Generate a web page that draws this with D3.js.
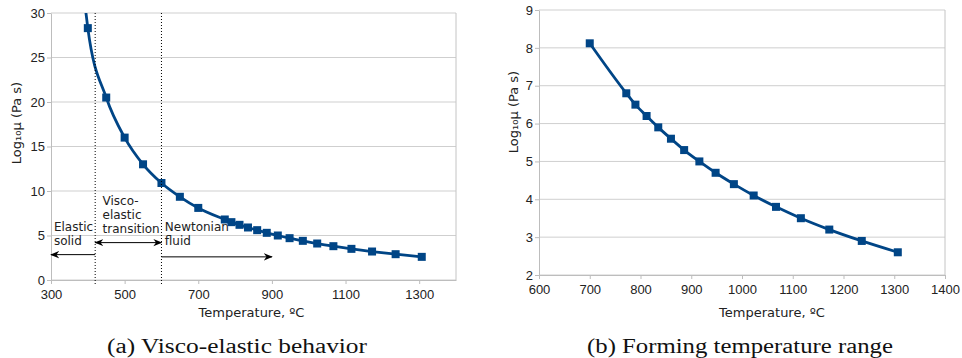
<!DOCTYPE html>
<html>
<head>
<meta charset="utf-8">
<script src="https://cdn.jsdelivr.net/npm/d3@7"></script>
<style>
  body { margin: 0; background: #fff; }
  svg { display: block; }
</style>
</head>
<body>
<svg id="drawing_region"></svg>
<script>
// temperature (ºC) and log10 viscosity (Pa s)
const temps_a = [392, 400, 450, 500, 550, 600, 650, 700, 772, 790, 812, 835, 860, 886, 916, 948, 984, 1023, 1067, 1116, 1172, 1236, 1307];
const visc_a  = [31.0, 28.3, 20.5, 16.0, 13.0, 10.9, 9.35, 8.1, 6.8, 6.5, 6.2, 5.9, 5.6, 5.3, 5.0, 4.7, 4.4, 4.1, 3.8, 3.5, 3.2, 2.9, 2.6];

const temps_b = [700, 772, 790, 812, 835, 860, 886, 916, 948, 984, 1023, 1067, 1116, 1172, 1236, 1307];
const visc_b  = [8.12, 6.8, 6.5, 6.2, 5.9, 5.6, 5.3, 5.0, 4.7, 4.4, 4.1, 3.8, 3.5, 3.2, 2.9, 2.6];

const xticks_a = [300, 500, 700, 900, 1100, 1300];
const yticks_a = [0, 5, 10, 15, 20, 25, 30];
const xticks_b = [600, 700, 800, 900, 1000, 1100, 1200, 1300, 1400];
const yticks_b = [2, 3, 4, 5, 6, 7, 8, 9];

// region limits (ºC) and annotation labels for chart (a)
const region_bounds = [420, 600];
const region_labels = [
    { lines: ["Elastic", "solid"], t: 308, v: 5.45 },
    { lines: ["Visco-", "elastic", "transition"], t: 440, v: 8.4 },
    { lines: ["Newtonian", "fluid"], t: 609, v: 5.45 }
];
const region_arrows = [
    { from: 420, to: 300, v: 2.85, both: false },
    { from: 420, to: 600, v: 4.2, both: true },
    { from: 600, to: 900, v: 2.6, both: false }
];

const captions = ["(a) Visco-elastic behavior", "(b) Forming temperature range"];

const color = "#004586";

const svg = d3.select('#drawing_region')
    .attr('width', 962)
    .attr('height', 358);

svg.append('rect').attr('width', 962).attr('height', 358).attr('fill', '#fff');

const defs = svg.append('defs');
defs.append('marker')
    .attr('id', 'arrow')
    .attr('viewBox', '0 0 10 10')
    .attr('refX', 9).attr('refY', 5)
    .attr('markerWidth', 9).attr('markerHeight', 9)
    .attr('markerUnits', 'userSpaceOnUse')
    .attr('orient', 'auto-start-reverse')
    .append('path')
    .attr('d', 'M0,1 L10,5 L0,9 L3,5 Z')
    .attr('fill', '#000');

class LineChart {
    constructor(config, temps, visc) {
        this.config = config;
        this.temps = temps;
        this.visc = visc;
        this.init();
    }

    init() {
        let self = this;
        let c = self.config;

        self.x = d3.scaleLinear().domain(c.xdomain).range([c.left, c.right]);
        self.y = d3.scaleLinear().domain(c.ydomain).range([c.bottom, c.top]);

        self.g = svg.append('g');

        // horizontal grid
        self.g.append('g')
            .selectAll('line')
            .data(c.yticks)
            .join('line')
            .attr('x1', c.left).attr('x2', c.right)
            .attr('y1', d => self.y(d)).attr('y2', d => self.y(d))
            .attr('stroke', '#cfcfcf')
            .attr('stroke-width', 1);

        // right border
        self.g.append('line')
            .attr('x1', c.right).attr('x2', c.right)
            .attr('y1', c.top).attr('y2', c.bottom)
            .attr('stroke', '#c4c4c4');

        const fmt = d3.format('d');
        const xAxis = d3.axisBottom(self.x).tickValues(c.xticks).tickFormat(fmt).tickSize(4).tickSizeOuter(0);
        const yAxis = d3.axisLeft(self.y).tickValues(c.yticks).tickFormat(fmt).tickSize(4).tickSizeOuter(0);

        self.g.append('g')
            .attr('transform', `translate(0,${c.bottom})`)
            .call(xAxis)
            .call(g => g.select('.domain').attr('stroke', '#bdbdbd'))
            .call(g => g.selectAll('.tick line').attr('stroke', '#bdbdbd'))
            .call(g => g.selectAll('.tick text')
                .attr('font-family', 'Liberation Sans, Arial, sans-serif')
                .attr('font-size', '13px').attr('fill', '#222').attr('dy', '0.95em'));

        self.g.append('g')
            .attr('transform', `translate(${c.left},0)`)
            .call(yAxis)
            .call(g => g.select('.domain').attr('stroke', '#bdbdbd'))
            .call(g => g.selectAll('.tick line').attr('stroke', '#bdbdbd'))
            .call(g => g.selectAll('.tick text')
                .attr('font-family', 'Liberation Sans, Arial, sans-serif')
                .attr('font-size', '13px').attr('fill', '#222').attr('x', -6));

        self.g.append('text')
            .attr('x', (c.left + c.right) / 2 + c.xtitleShift)
            .attr('y', 317)
            .attr('text-anchor', 'middle')
            .attr('font-family', 'DejaVu Sans, sans-serif')
            .attr('font-size', '13px')
            .attr('fill', '#222')
            .text('Temperature, ºC');

        self.g.append('text')
            .attr('transform', `translate(${c.ytitleX},${c.ytitleY}) rotate(-90)`)
            .attr('text-anchor', 'middle')
            .attr('font-family', 'DejaVu Sans, sans-serif')
            .attr('font-size', '13px')
            .attr('fill', '#222')
            .text('Log₁₀μ (Pa s)');

        self.g.append('text')
            .attr('x', c.captionX)
            .attr('y', 353)
            .attr('text-anchor', 'middle')
            .attr('font-family', "'Liberation Serif', 'DejaVu Serif', serif")
            .attr('font-size', '20px')
            .attr('fill', '#111')
            .attr('textLength', c.captionW)
            .attr('lengthAdjust', 'spacingAndGlyphs')
            .text(c.caption);

        defs.append('clipPath').attr('id', 'clip' + c.id)
            .append('rect')
            .attr('x', c.left - 6).attr('y', c.top)
            .attr('width', c.right - c.left + 12).attr('height', c.bottom - c.top + 6);
    }

    render() {
        let self = this;
        const pts = self.temps.map((t, i) => ({ t: t, v: self.visc[i] }));

        const line = d3.line()
            .x(d => self.x(d.t))
            .y(d => self.y(d.v))
            .curve(d3.curveMonotoneX);

        const plot = self.g.append('g').attr('clip-path', `url(#clip${self.config.id})`);

        plot.append('path')
            .datum(pts)
            .attr('d', line)
            .attr('fill', 'none')
            .attr('stroke', color)
            .attr('stroke-width', 2.8);

        plot.selectAll('rect.pt')
            .data(pts)
            .join('rect')
            .attr('class', 'pt')
            .attr('x', d => self.x(d.t) - 4)
            .attr('y', d => self.y(d.v) - 4)
            .attr('width', 8)
            .attr('height', 8)
            .attr('fill', color);
    }

    annotate() {
        let self = this;
        let c = self.config;

        self.g.append('g')
            .selectAll('line')
            .data(region_bounds)
            .join('line')
            .attr('x1', d => self.x(d)).attr('x2', d => self.x(d))
            .attr('y1', c.top).attr('y2', c.bottom + 6)
            .attr('stroke', '#000')
            .attr('stroke-width', 1)
            .attr('stroke-dasharray', '1,2');

        self.g.append('g')
            .selectAll('line')
            .data(region_arrows)
            .join('line')
            .attr('x1', d => self.x(d.from)).attr('x2', d => self.x(d.to))
            .attr('y1', d => self.y(d.v)).attr('y2', d => self.y(d.v))
            .attr('stroke', '#000')
            .attr('stroke-width', 1)
            .attr('marker-end', 'url(#arrow)')
            .attr('marker-start', d => d.both ? 'url(#arrow)' : null);

        const labels = self.g.append('g')
            .selectAll('text')
            .data(region_labels)
            .join('text')
            .attr('font-family', 'DejaVu Sans, sans-serif')
            .attr('font-size', '12px')
            .attr('fill', '#222')
            .attr('y', d => self.y(d.v));

        labels.selectAll('tspan')
            .data(d => d.lines.map(l => ({ l: l, t: d.t })))
            .join('tspan')
            .attr('x', d => self.x(d.t))
            .attr('dy', (d, i) => i === 0 ? 0 : 13.7)
            .text(d => d.l);
    }
}

const chart_a = new LineChart({
    id: 'a', left: 51, right: 456, top: 13, bottom: 280,
    xdomain: [300, 1400], ydomain: [0, 30],
    xticks: xticks_a, yticks: yticks_a,
    xtitleShift: -2, ytitleX: 21, ytitleY: 123,
    captionX: 237, captionW: 260, caption: captions[0]
}, temps_a, visc_a);
chart_a.render();
chart_a.annotate();

const chart_b = new LineChart({
    id: 'b', left: 539, right: 945, top: 10, bottom: 275,
    xdomain: [600, 1400], ydomain: [2, 9],
    xticks: xticks_b, yticks: yticks_b,
    xtitleShift: 30, ytitleX: 518, ytitleY: 112,
    captionX: 740, captionW: 306, caption: captions[1]
}, temps_b, visc_b);
chart_b.render();
</script>
</body>
</html>
